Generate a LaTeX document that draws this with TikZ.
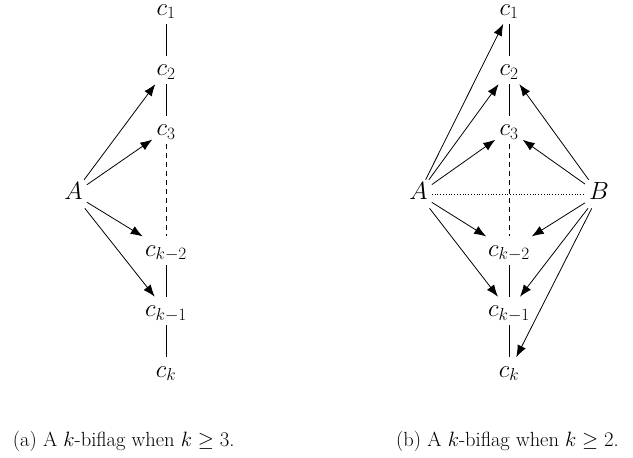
\documentclass[tikz,border=0pt]{standalone}
\usetikzlibrary{arrows.meta}
\begin{document}
\begin{tikzpicture}[x=1pt,y=-1pt,
  lbl/.style={font=\fontsize{23}{27}\selectfont, inner sep=4pt, anchor=base,
    text height=15.6pt, text depth=4.6pt},
  toplbl/.style={lbl, text height=10pt},
  captxt/.style={font=\fontsize{20.5}{24}\selectfont, inner sep=0pt, anchor=base west},
  arr/.style={-{Latex[length=12pt,width=9pt]}, line width=0.8pt},
  vline/.style={line width=0.8pt},
  vdash/.style={line width=0.8pt, dash pattern=on 5pt off 4pt},
  dotline/.style={line width=0.8pt, dotted}]
\useasboundingbox (0,0) rectangle (633,458);
% (a)
\node[toplbl] (a1) at (166,15) {$c_1$};
\node[lbl] (a2) at (166,75.3) {$c_2$};
\node[lbl] (a3) at (166,135.6) {$c_3$};
\node[lbl] (a4) at (166,256.2) {$c_{k-2}$};
\node[lbl] (a5) at (166,316.5) {$c_{k-1}$};
\node[lbl] (a6) at (166,377) {$c_k$};
\node[lbl] (aA) at (73.5,199.5) {$A$};
\draw[vline] (a1) -- (a2);
\draw[vline] (a2) -- (a3);
\draw[vdash] (a3) -- (a4);
\draw[vline] (a4) -- (a5);
\draw[vline] (a5) -- (a6);
\draw[arr] (aA) -- (a2);
\draw[arr] (aA) -- (a3);
\draw[arr] (aA) -- (a4);
\draw[arr] (aA) -- (a5);
% (b)
\node[toplbl] (b1) at (509,15) {$c_1$};
\node[lbl] (b2) at (509,75.3) {$c_2$};
\node[lbl] (b3) at (509,135.6) {$c_3$};
\node[lbl] (b4) at (509,256.2) {$c_{k-2}$};
\node[lbl] (b5) at (509,316.5) {$c_{k-1}$};
\node[lbl] (b6) at (509,377) {$c_k$};
\node[lbl] (bA) at (418.5,199.5) {$A$};
\node[lbl] (bB) at (599,199.5) {$B$};
\draw[vline] (b1) -- (b2);
\draw[vline] (b2) -- (b3);
\draw[vdash] (b3) -- (b4);
\draw[vline] (b4) -- (b5);
\draw[vline] (b5) -- (b6);
\draw[dotline] (bA) -- (bB);
\draw[arr] (bA) -- (b1);
\draw[arr] (bA) -- (b2);
\draw[arr] (bA) -- (b3);
\draw[arr] (bA) -- (b4);
\draw[arr] (bA) -- (b5);
\draw[arr] (bB) -- (b2);
\draw[arr] (bB) -- (b3);
\draw[arr] (bB) -- (b4);
\draw[arr] (bB) -- (b5);
\draw[arr] (bB) -- (b6);
% captions
\node[captxt] (ca) at (12.7,446) {(a) A $k$-biflag when $k \geq 3$.};
\node[captxt] (cb) at (396,446) {(b) A $k$-biflag when $k \geq 2$.};
\end{tikzpicture}
\end{document}
